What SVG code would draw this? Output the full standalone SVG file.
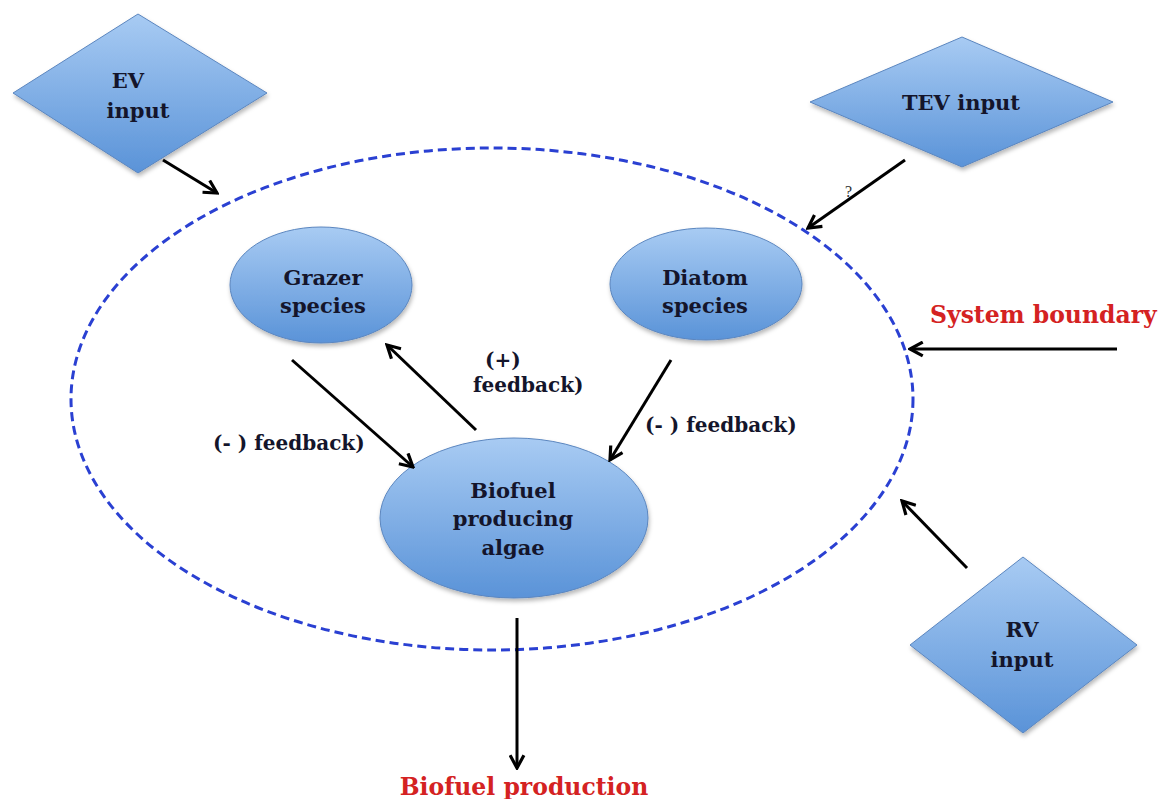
<svg xmlns="http://www.w3.org/2000/svg" width="1166" height="799" viewBox="0 0 1166 799">
<style>
.nt{font-family:"DejaVu Serif","Liberation Serif",serif;font-weight:bold;font-size:21px;fill:#14152b;text-anchor:middle}
.lb{font-family:"DejaVu Serif","Liberation Serif",serif;font-weight:bold;font-size:20px;fill:#14152b}
.red{font-family:"DejaVu Serif","Liberation Serif",serif;font-weight:bold;font-size:23.5px;fill:#d42222}
.shape{fill:url(#g);stroke:#5b86bf;stroke-width:1;filter:url(#sh)}
.conn line{stroke:#000;stroke-width:3;marker-end:url(#ah)}
</style>
<defs>
<linearGradient id="g" x1="0" y1="0" x2="0" y2="1">
<stop offset="0" stop-color="#a8cbf3"/>
<stop offset="1" stop-color="#5a93d8"/>
</linearGradient>
<filter id="sh" x="-10%" y="-10%" width="130%" height="130%">
<feDropShadow dx="1" dy="3" stdDeviation="2" flood-color="#000" flood-opacity="0.28"/>
</filter>
<marker id="ah" viewBox="0 0 16 16" refX="14" refY="8" markerWidth="17" markerHeight="17" markerUnits="userSpaceOnUse" orient="auto">
<path d="M2,1.5 L14,8 L2,14.5" fill="none" stroke="#000" stroke-width="3"/>
</marker>
</defs>
<rect width="1166" height="799" fill="#fff"/>
<g id="system-boundary">
<ellipse cx="492" cy="399" rx="421" ry="251" fill="none" stroke="#2a40d2" stroke-width="3" stroke-dasharray="9,5"/>
</g>
<g id="ev-input">
<polygon class="shape" points="13,93 138,14 267,93 138,173"/>
<text class="nt" x="128" y="88">EV</text>
<text class="nt" x="138" y="118">input</text>
</g>
<g id="tev-input">
<polygon class="shape" points="810,102 962,37 1113,102 962,167"/>
<text class="nt" x="961" y="110">TEV input</text>
</g>
<g id="rv-input">
<polygon class="shape" points="910,645 1023,557 1137,645 1023,733"/>
<text class="nt" x="1022" y="637">RV</text>
<text class="nt" x="1022" y="667">input</text>
</g>
<g id="grazer">
<ellipse class="shape" cx="321" cy="285" rx="91" ry="58"/>
<text class="nt" x="323" y="285">Grazer</text>
<text class="nt" x="323" y="313">species</text>
</g>
<g id="diatom">
<ellipse class="shape" cx="706" cy="284" rx="96" ry="56"/>
<text class="nt" x="705" y="285">Diatom</text>
<text class="nt" x="705" y="313">species</text>
</g>
<g id="biofuel-algae">
<ellipse class="shape" cx="514" cy="518" rx="134" ry="80"/>
<text class="nt" x="513" y="498">Biofuel</text>
<text class="nt" x="513" y="526">producing</text>
<text class="nt" x="513" y="555">algae</text>
</g>
<g id="connectors" class="conn">
<line x1="163" y1="160" x2="217" y2="193"/>
<line x1="905" y1="160" x2="808" y2="228"/>
<line x1="1117" y1="349" x2="910" y2="349"/>
<line x1="967" y1="568" x2="902" y2="501"/>
<line x1="292" y1="360" x2="413" y2="467"/>
<line x1="476" y1="430" x2="387" y2="345"/>
<line x1="671" y1="360" x2="610" y2="460"/>
<line x1="517" y1="618" x2="517" y2="768"/>
</g>
<g id="labels">
<text x="845" y="197" style="font-family:'Liberation Serif',serif;font-size:16px;fill:#333">?</text>
<text class="lb" x="213" y="450">(- ) feedback)</text>
<text class="lb" x="485" y="367">(+)</text>
<text class="lb" x="473" y="392">feedback)</text>
<text class="lb" x="645" y="432">(- ) feedback)</text>
<text class="red" x="930" y="323">System boundary</text>
<text class="red" x="524" y="795" text-anchor="middle">Biofuel production</text>
</g>
</svg>
